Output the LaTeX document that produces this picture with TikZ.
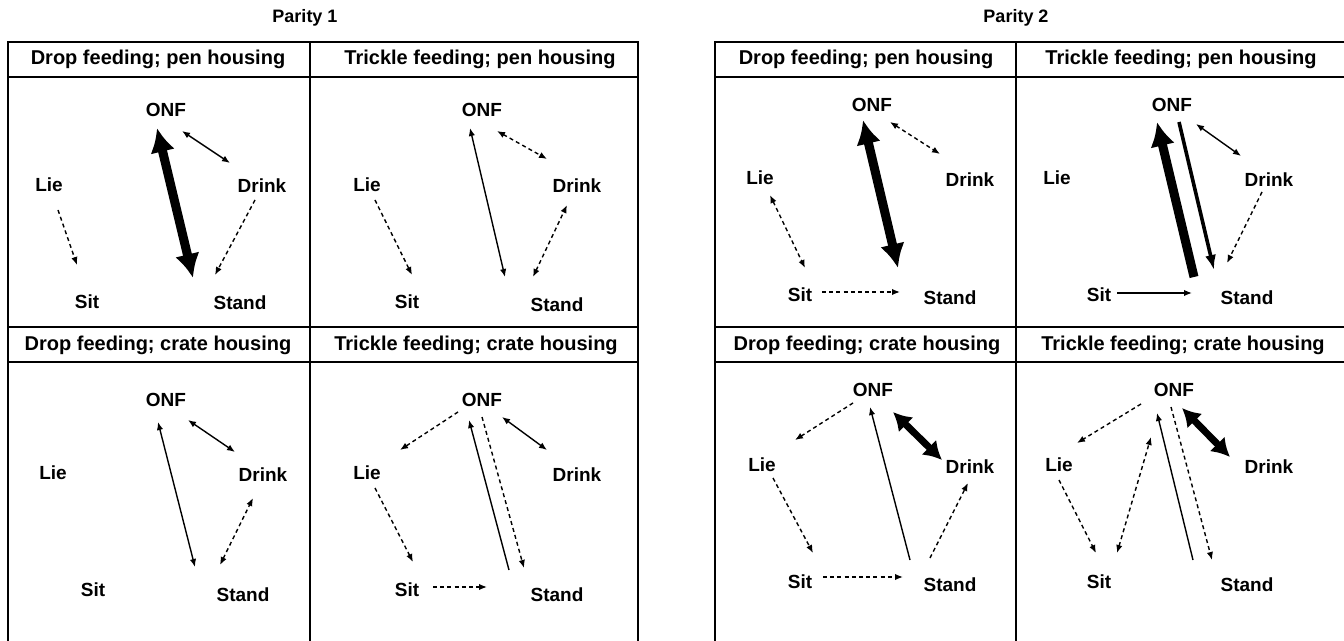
\documentclass[tikz,border=0pt]{standalone}
\usepackage{fontspec}
\setmainfont{Liberation Sans}
\usetikzlibrary{arrows.meta}

\begin{document}
\begin{tikzpicture}[x=0.5pt,y=-0.5pt,
	state/.style={font=\bfseries\fontsize{9.5}{11}\selectfont,inner sep=0pt},
	head/.style={font=\bfseries\fontsize{10}{12}\selectfont,inner sep=0pt},
	title/.style={font=\bfseries\fontsize{9}{11}\selectfont,inner sep=0pt},
	grid/.style={line width=1pt},
	thin/.style={line width=0.7pt,>={Latex[length=4pt,width=3.2pt]}},
	dots/.style={thin,dash pattern=on 2pt off 1.6pt},
	mid/.style={line width=1.8pt,>={Latex[length=7.5pt,width=5.5pt]}},
	fat/.style={line width=3.5pt,>={Latex[length=9pt,width=10.5pt]}},
	huge/.style={line width=4.5pt,>={Latex[length=12pt,width=12.5pt]}}]
\useasboundingbox (0,0) rectangle (1344,641);

% titles and table lines
\node[title] (par1) at (305,18) {Parity 1};
\node[title] (par2) at (1016,18) {Parity 2};
\draw[grid] (8,641) -- (8,42) -- (638,42) -- (638,641);
\draw[grid] (310,42) -- (310,641);
\draw[grid] (715,641) -- (715,42) -- (1344,42);
\draw[grid] (1016,42) -- (1016,641);
\foreach \y in {77,327,362} {
	\draw[grid] (8,\y) -- (638,\y);
	\draw[grid] (715,\y) -- (1344,\y);
}
\node[head] (hA) at (158,59) {Drop feeding; pen housing};
\node[head] (hB) at (480,59) {Trickle feeding; pen housing};
\node[head] (hC) at (158,345) {Drop feeding; crate housing};
\node[head] (hD) at (476,345) {Trickle feeding; crate housing};
\node[head] (hE) at (866,59) {Drop feeding; pen housing};
\node[head] (hF) at (1181,59) {Trickle feeding; pen housing};
\node[head] (hG) at (867,345) {Drop feeding; crate housing};
\node[head] (hH) at (1183,345) {Trickle feeding; crate housing};

% Parity 1, drop feeding, pen
\node[state] (Aonf) at (166,110) {ONF};
\node[state] (Alie) at (49,185) {Lie};
\node[state] (Adrink) at (262,186) {Drink};
\node[state] (Asit) at (87,302) {Sit};
\node[state] (Astand) at (240,303) {Stand};
\draw[thin,<->] ([shift={(16,21)}]Aonf.center) -- ([shift={(-32,-23)}]Adrink.center);
\draw[dots,->] ([shift={(9,25)}]Alie.center) -- ([shift={(-10,-37)}]Asit.center);
\draw[dots,->] ([shift={(-7,14)}]Adrink.center) -- ([shift={(-25,-28)}]Astand.center);
\draw[huge,<->] ([shift={(-9,18)}]Aonf.center) -- ([shift={(-47,-25)}]Astand.center);

% Parity 1, trickle feeding, pen
\node[state] (Bonf) at (482,110) {ONF};
\node[state] (Blie) at (367,185) {Lie};
\node[state] (Bdrink) at (577,186) {Drink};
\node[state] (Bsit) at (407,302) {Sit};
\node[state] (Bstand) at (557,305) {Stand};
\draw[dots,<->] ([shift={(15,21)}]Bonf.center) -- ([shift={(-30,-27)}]Bdrink.center);
\draw[thin,<->] ([shift={(-12,18)}]Bonf.center) -- ([shift={(-52,-28)}]Bstand.center);
\draw[dots,->] ([shift={(8,15)}]Blie.center) -- ([shift={(5,-27)}]Bsit.center);
\draw[dots,<->] ([shift={(-24,-28)}]Bstand.center) -- ([shift={(-10,19)}]Bdrink.center);

% Parity 1, drop feeding, crate
\node[state] (Conf) at (166,400) {ONF};
\node[state] (Clie) at (53,473) {Lie};
\node[state] (Cdrink) at (263,475) {Drink};
\node[state] (Csit) at (93,590) {Sit};
\node[state] (Cstand) at (243,595) {Stand};
\draw[thin,<->] ([shift={(22,20)}]Conf.center) -- ([shift={(-28,-23)}]Cdrink.center);
\draw[thin,<->] ([shift={(-8,22)}]Conf.center) -- ([shift={(-48,-28)}]Cstand.center);
\draw[dots,<->] ([shift={(-23,-30)}]Cstand.center) -- ([shift={(-10,23)}]Cdrink.center);

% Parity 1, trickle feeding, crate
\node[state] (Donf) at (482,400) {ONF};
\node[state] (Dlie) at (367,473) {Lie};
\node[state] (Ddrink) at (577,475) {Drink};
\node[state] (Dsit) at (407,590) {Sit};
\node[state] (Dstand) at (557,595) {Stand};
\draw[dots,->] ([shift={(-24,12)}]Donf.center) -- ([shift={(33,-23)}]Dlie.center);
\draw[thin,<->] ([shift={(20,17)}]Donf.center) -- ([shift={(-30,-25)}]Ddrink.center);
\draw[thin,->] ([shift={(-48,-25)}]Dstand.center) -- ([shift={(-13,20)}]Donf.center);
\draw[dots,->] ([shift={(0,17)}]Donf.center) -- ([shift={(-33,-27)}]Dstand.center);
\draw[dots,->] ([shift={(8,15)}]Dlie.center) -- ([shift={(6,-28)}]Dsit.center);
\draw[dots,->] ([shift={(26,-3)}]Dsit.center) -- ([shift={(-70,-8)}]Dstand.center);

% Parity 2, drop feeding, pen
\node[state] (Eonf) at (872,105) {ONF};
\node[state] (Elie) at (760,178) {Lie};
\node[state] (Edrink) at (970,180) {Drink};
\node[state] (Esit) at (800,295) {Sit};
\node[state] (Estand) at (950,298) {Stand};
\draw[huge,<->] ([shift={(-9,15)}]Eonf.center) -- ([shift={(-52,-30)}]Estand.center);
\draw[dots,<->] ([shift={(18,17)}]Eonf.center) -- ([shift={(-30,-26)}]Edrink.center);
\draw[dots,<->] ([shift={(10,17)}]Elie.center) -- ([shift={(5,-27)}]Esit.center);
\draw[dots,->] ([shift={(22,-3)}]Esit.center) -- ([shift={(-50,-6)}]Estand.center);

% Parity 2, trickle feeding, pen
\node[state] (Fonf) at (1172,105) {ONF};
\node[state] (Flie) at (1057,178) {Lie};
\node[state] (Fdrink) at (1269,180) {Drink};
\node[state] (Fsit) at (1099,295) {Sit};
\node[state] (Fstand) at (1247,298) {Stand};
\draw[huge,->] ([shift={(-53,-21)}]Fstand.center) -- ([shift={(-15,17)}]Fonf.center);
\draw[mid,->] ([shift={(7,17)}]Fonf.center) -- ([shift={(-33,-28)}]Fstand.center);
\draw[thin,<->] ([shift={(24,19)}]Fonf.center) -- ([shift={(-28,-24)}]Fdrink.center);
\draw[dots,->] ([shift={(-7,12)}]Fdrink.center) -- ([shift={(-20,-35)}]Fstand.center);
\draw[thin,->] ([shift={(18,-2)}]Fsit.center) -- ([shift={(-55,-5)}]Fstand.center);

% Parity 2, drop feeding, crate
\node[state] (Gonf) at (873,390) {ONF};
\node[state] (Glie) at (762,465) {Lie};
\node[state] (Gdrink) at (970,467) {Drink};
\node[state] (Gsit) at (800,582) {Sit};
\node[state] (Gstand) at (950,585) {Stand};
\draw[dots,->] ([shift={(-20,13)}]Gonf.center) -- ([shift={(33,-25)}]Glie.center);
\draw[thin,->] ([shift={(-40,-25)}]Gstand.center) -- ([shift={(-3,17)}]Gonf.center);
\draw[fat,<->] ([shift={(20,22)}]Gonf.center) -- ([shift={(-28,-7)}]Gdrink.center);
\draw[dots,->] ([shift={(11,13)}]Glie.center) -- ([shift={(13,-29)}]Gsit.center);
\draw[dots,->] ([shift={(23,-5)}]Gsit.center) -- ([shift={(-47,-8)}]Gstand.center);
\draw[dots,->] ([shift={(-20,-27)}]Gstand.center) -- ([shift={(-2,16)}]Gdrink.center);

% Parity 2, trickle feeding, crate
\node[state] (Honf) at (1174,390) {ONF};
\node[state] (Hlie) at (1059,465) {Lie};
\node[state] (Hdrink) at (1269,467) {Drink};
\node[state] (Hsit) at (1099,582) {Sit};
\node[state] (Hstand) at (1247,585) {Stand};
\draw[dots,->] ([shift={(-33,14)}]Honf.center) -- ([shift={(18,-22)}]Hlie.center);
\draw[fat,<->] ([shift={(8,18)}]Honf.center) -- ([shift={(-39,-10)}]Hdrink.center);
\draw[dots,<->] ([shift={(18,-29)}]Hsit.center) -- ([shift={(-23,47)}]Honf.center);
\draw[thin,->] ([shift={(-54,-25)}]Hstand.center) -- ([shift={(-17,23)}]Honf.center);
\draw[dots,->] ([shift={(-3,17)}]Honf.center) -- ([shift={(-35,-25)}]Hstand.center);
\draw[dots,->] ([shift={(0,15)}]Hlie.center) -- ([shift={(-3,-29)}]Hsit.center);
\end{tikzpicture}
\end{document}
